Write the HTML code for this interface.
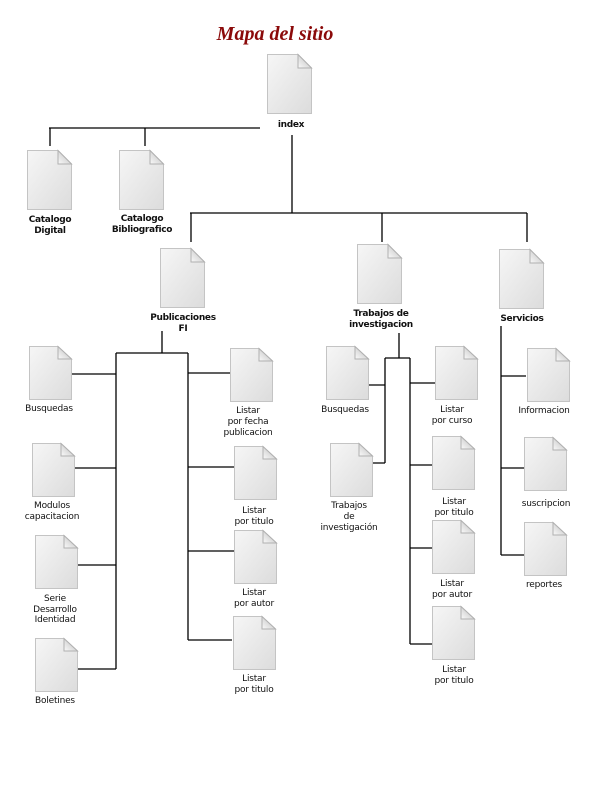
<!DOCTYPE html>
<html><head><meta charset="utf-8"><style>
html,body{margin:0;padding:0;background:#fff;width:600px;height:800px;overflow:hidden}
svg text{font-family:"DejaVu Sans","Liberation Sans",sans-serif;font-size:9px;fill:#111;text-anchor:middle;letter-spacing:-0.2px}
svg text.b{font-weight:bold;font-size:9px;letter-spacing:-0.3px}
</style></head><body>
<svg width="600" height="800" viewBox="0 0 600 800" xmlns="http://www.w3.org/2000/svg">
<defs>
<linearGradient id="g" x1="0" y1="0" x2="1" y2="1">
<stop offset="0" stop-color="#f6f6f6"/><stop offset="1" stop-color="#dcdcdc"/>
</linearGradient>
<linearGradient id="f" x1="0" y1="1" x2="1" y2="0">
<stop offset="0" stop-color="#fafafa"/><stop offset="1" stop-color="#b8b8b8"/>
</linearGradient>
<g id="doc">
<path d="M0.5,0.5 H31 L44.5,14 V59.5 H0.5 Z" fill="url(#g)" stroke="#c4c4c4"/>
<path d="M31,0.5 V14 H44.5 Z" fill="url(#f)" stroke="#b0b0b0"/>
</g>
<g id="sdoc">
<path d="M0.5,0.5 H29 L42.5,13 V53.5 H0.5 Z" fill="url(#g)" stroke="#c4c4c4"/>
<path d="M29,0.5 V13 H42.5 Z" fill="url(#f)" stroke="#b0b0b0"/>
</g>
</defs>
<text x="275" y="40" style="font-family:'Liberation Serif',serif;font-size:20px;font-weight:bold;font-style:italic;fill:#8b0a0a;letter-spacing:0">Mapa del sitio</text>

<g stroke="#000" stroke-width="1.3" fill="none">
<path d="M49,128 H260 M50,128 V146 M145,128 V146"/>
<path d="M292,135 V213 M190,213 H527 M191,213 V242 M382,213 V242 M527,213 V242"/>
<path d="M162,331 V353 M116,353 H188 M116,353 V669 M188,353 V640"/>
<path d="M72,374 H116 M75,468 H116 M77,565 H116 M77,669 H116"/>
<path d="M188,373 H230 M188,467 H234 M188,551 H234 M188,640 H232"/>
<path d="M399,333 V358 M385,358 H410 M385,358 V463 M410,358 V644"/>
<path d="M368,385 H385 M372,463 H385"/>
<path d="M410,383 H435 M410,465 H432 M410,548 H432 M410,644 H432"/>
<path d="M501,326 V555 M501,376 H526 M501,468 H524 M501,555 H524"/>
</g>

<use href="#doc" x="267" y="54"/>
<text x="291" y="127" class="b">index</text>
<use href="#doc" x="27" y="150"/>
<text x="50" y="222" class="b">Catalogo</text><text x="50" y="233" class="b">Digital</text>
<use href="#doc" x="119" y="150"/>
<text x="142" y="221" class="b">Catalogo</text><text x="142" y="232" class="b">Bibliografico</text>
<use href="#doc" x="160" y="248"/>
<text x="183" y="320" class="b">Publicaciones</text><text x="183" y="331" class="b">FI</text>
<use href="#doc" x="357" y="244"/>
<text x="381" y="316" class="b">Trabajos de</text><text x="381" y="327" class="b">investigacion</text>
<use href="#doc" x="499" y="249"/>
<text x="522" y="321" class="b">Servicios</text>

<use href="#sdoc" x="29" y="346"/><text x="49" y="411">Busquedas</text>
<use href="#sdoc" x="32" y="443"/><text x="52" y="508">Modulos</text><text x="52" y="519">capacitacion</text>
<use href="#sdoc" x="35" y="535"/><text x="55" y="601">Serie</text><text x="55" y="612">Desarrollo</text><text x="55" y="622">Identidad</text>
<use href="#sdoc" x="35" y="638"/><text x="55" y="703">Boletines</text>

<use href="#sdoc" x="230" y="348"/><text x="248" y="413">Listar</text><text x="248" y="424">por fecha</text><text x="248" y="435">publicacion</text>
<use href="#sdoc" x="234" y="446"/><text x="254" y="513">Listar</text><text x="254" y="524">por titulo</text>
<use href="#sdoc" x="234" y="530"/><text x="254" y="595">Listar</text><text x="254" y="606">por autor</text>
<use href="#sdoc" x="233" y="616"/><text x="254" y="681">Listar</text><text x="254" y="692">por titulo</text>

<use href="#sdoc" x="326" y="346"/><text x="345" y="412">Busquedas</text>
<use href="#sdoc" x="330" y="443"/><text x="349" y="508">Trabajos</text><text x="349" y="519">de</text><text x="349" y="530">investigación</text>
<use href="#sdoc" x="435" y="346"/><text x="452" y="412">Listar</text><text x="452" y="423">por curso</text>
<use href="#sdoc" x="432" y="436"/><text x="454" y="504">Listar</text><text x="454" y="515">por titulo</text>
<use href="#sdoc" x="432" y="520"/><text x="452" y="586">Listar</text><text x="452" y="597">por autor</text>
<use href="#sdoc" x="432" y="606"/><text x="454" y="672">Listar</text><text x="454" y="683">por titulo</text>

<use href="#sdoc" x="527" y="348"/><text x="544" y="413">Informacion</text>
<use href="#sdoc" x="524" y="437"/><text x="546" y="506">suscripcion</text>
<use href="#sdoc" x="524" y="522"/><text x="544" y="587">reportes</text>
</svg>
</body></html>
